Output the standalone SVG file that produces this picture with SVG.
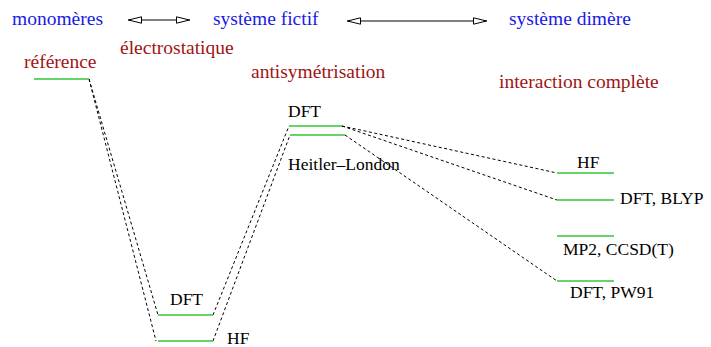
<svg xmlns="http://www.w3.org/2000/svg" width="711" height="347" viewBox="0 0 711 347" font-family="'Liberation Serif', 'Times New Roman', Times, 'DejaVu Serif', serif">
<defs>
<marker id="head" viewBox="0 0 14 8" refX="14" refY="4" markerWidth="14" markerHeight="8" markerUnits="userSpaceOnUse" orient="auto-start-reverse">
<path d="M0.5,0.8 L13.5,4 L0.5,7.2 Z" fill="#fff" stroke="#000" stroke-width="1"/>
</marker>
</defs>
<style>
.blue{fill:#1a1ae6;font-size:19.5px}
.red{fill:#a01515;font-size:19.5px}
.lbl{fill:#000;font-size:17.5px}
.lvl{stroke:#33c633;stroke-width:1.6;fill:none}
.dash{stroke:#000;stroke-width:1;stroke-dasharray:3,2.5;fill:none}
.arr{stroke:#000;stroke-width:1.2;fill:none;marker-start:url(#head);marker-end:url(#head)}
</style>
<g id="headers">
<text class="blue" x="12" y="25">monomères</text>
<text class="blue" x="213" y="25">système fictif</text>
<text class="blue" x="509" y="25">système dimère</text>
<line class="arr" x1="128" y1="20" x2="190" y2="20"/>
<line class="arr" x1="347" y1="21" x2="487" y2="21"/>
</g>
<g id="stages">
<text class="red" x="24" y="68">référence</text>
<text class="red" x="120" y="54">électrostatique</text>
<text class="red" x="251" y="78">antisymétrisation</text>
<text class="red" x="499" y="88">interaction complète</text>
</g>
<g id="connectors">
<line class="dash" x1="89" y1="79" x2="158" y2="315"/>
<line class="dash" x1="89" y1="79" x2="156" y2="341"/>
<line class="dash" x1="213" y1="315" x2="289" y2="126"/>
<line class="dash" x1="213" y1="341" x2="290" y2="135"/>
<line class="dash" x1="342" y1="126" x2="557" y2="173"/>
<line class="dash" x1="342" y1="126" x2="557" y2="200"/>
<line class="dash" x1="345" y1="135" x2="557" y2="281"/>
</g>
<g id="node-reference"><line class="lvl" x1="34" y1="79" x2="89" y2="79"/></g>
<g id="node-elec-dft"><line class="lvl" x1="158" y1="315" x2="213" y2="315"/><text class="lbl" x="170" y="305">DFT</text></g>
<g id="node-elec-hf"><line class="lvl" x1="158" y1="341" x2="213" y2="341"/><text class="lbl" x="227" y="344">HF</text></g>
<g id="node-anti-dft"><line class="lvl" x1="289" y1="126" x2="342" y2="126"/><text class="lbl" x="288" y="117">DFT</text></g>
<g id="node-anti-hl"><line class="lvl" x1="290" y1="135" x2="345" y2="135"/><text class="lbl" x="288" y="170">Heitler–London</text></g>
<g id="node-full-hf"><line class="lvl" x1="557" y1="173" x2="614" y2="173"/><text class="lbl" x="577" y="168">HF</text></g>
<g id="node-full-blyp"><line class="lvl" x1="557" y1="200" x2="614" y2="200"/><text class="lbl" x="620" y="204">DFT, BLYP</text></g>
<g id="node-full-mp2"><line class="lvl" x1="557" y1="236" x2="614" y2="236"/><text class="lbl" x="563" y="255">MP2, CCSD(T)</text></g>
<g id="node-full-pw91"><line class="lvl" x1="557" y1="281" x2="614" y2="281"/><text class="lbl" x="570" y="298">DFT, PW91</text></g>
</svg>
